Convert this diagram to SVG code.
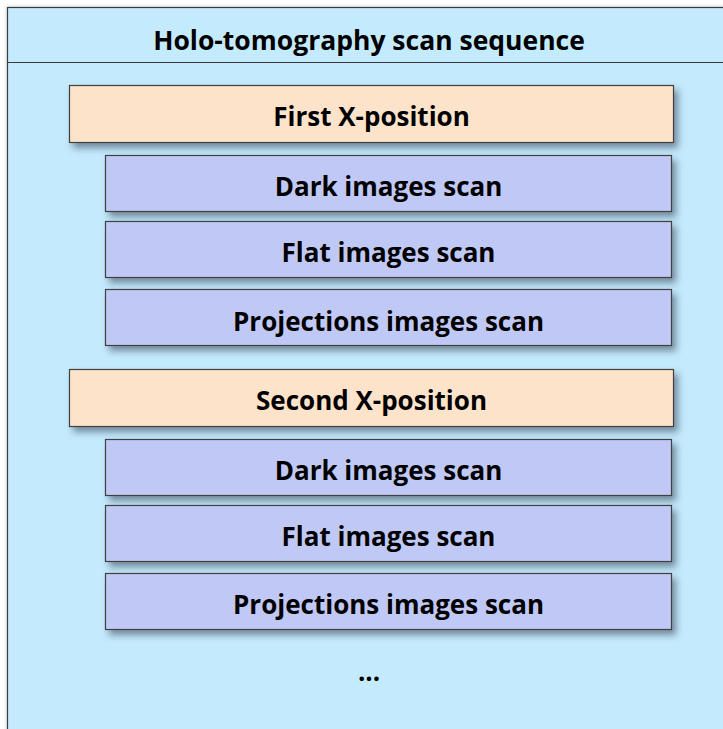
<svg xmlns="http://www.w3.org/2000/svg" width="723" height="729" viewBox="0 0 723 729">
  <style>
    .lbl { font-family: "Open Sans", "Noto Sans", "Liberation Sans", sans-serif; font-weight: bold; fill: #000; text-anchor: middle; }
    .hdr { font-size: 26.5px; }
    .txt { font-size: 26px; }
    .pos { fill: #FEE3CB; stroke: #404040; stroke-width: 1.2; filter: url(#shadow); }
    .step { fill: #C0C9F5; stroke: #404040; stroke-width: 1.2; filter: url(#shadow); }
  </style>
  <defs>
    <filter id="shadow" x="-5%" y="-20%" width="115%" height="160%">
      <feDropShadow dx="4" dy="5" stdDeviation="3.5" flood-color="#1a2a3a" flood-opacity="0.5"/>
    </filter>
    <filter id="frameShadow" x="-5%" y="-5%" width="110%" height="110%">
      <feDropShadow dx="0" dy="0" stdDeviation="2" flood-color="#000" flood-opacity="0.2"/>
    </filter>
  </defs>

  <rect width="723" height="729" fill="#ffffff"/>

  <!-- container -->
  <g id="container">
    <rect x="7.5" y="7.5" width="760" height="760" fill="#C4EBFD" stroke="#3a3a3a" stroke-width="1.2" filter="url(#frameShadow)"/>
    <line x1="7.5" y1="62.5" x2="723" y2="62.5" stroke="#3a3a3a" stroke-width="1.2"/>
    <text class="lbl hdr" x="369" y="49.5">Holo-tomography scan sequence</text>
  </g>

  <!-- first position -->
  <g id="pos1">
    <rect class="pos" x="69.5" y="85.5" width="604" height="57"/>
    <text class="lbl txt" x="371.5" y="126">First X-position</text>
  </g>
  <g id="dark1">
    <rect class="step" x="105.5" y="155.5" width="566" height="56"/>
    <text class="lbl txt" x="388.5" y="195.5">Dark images scan</text>
  </g>
  <g id="flat1">
    <rect class="step" x="105.5" y="221.5" width="566" height="56"/>
    <text class="lbl txt" x="388.5" y="262">Flat images scan</text>
  </g>
  <g id="proj1">
    <rect class="step" x="105.5" y="289.5" width="566" height="56"/>
    <text class="lbl txt" x="388.5" y="330.5">Projections images scan</text>
  </g>

  <!-- second position -->
  <g id="pos2">
    <rect class="pos" x="69.5" y="369.5" width="604" height="57"/>
    <text class="lbl txt" x="371.5" y="410">Second X-position</text>
  </g>
  <g id="dark2">
    <rect class="step" x="105.5" y="439.5" width="566" height="56"/>
    <text class="lbl txt" x="388.5" y="479.5">Dark images scan</text>
  </g>
  <g id="flat2">
    <rect class="step" x="105.5" y="505.5" width="566" height="56"/>
    <text class="lbl txt" x="388.5" y="546">Flat images scan</text>
  </g>
  <g id="proj2">
    <rect class="step" x="105.5" y="573.5" width="566" height="56"/>
    <text class="lbl txt" x="388.5" y="614">Projections images scan</text>
  </g>

  <g id="more">
    <text class="lbl txt" x="369" y="681">...</text>
  </g>

  <g id="connectors"/>
</svg>
